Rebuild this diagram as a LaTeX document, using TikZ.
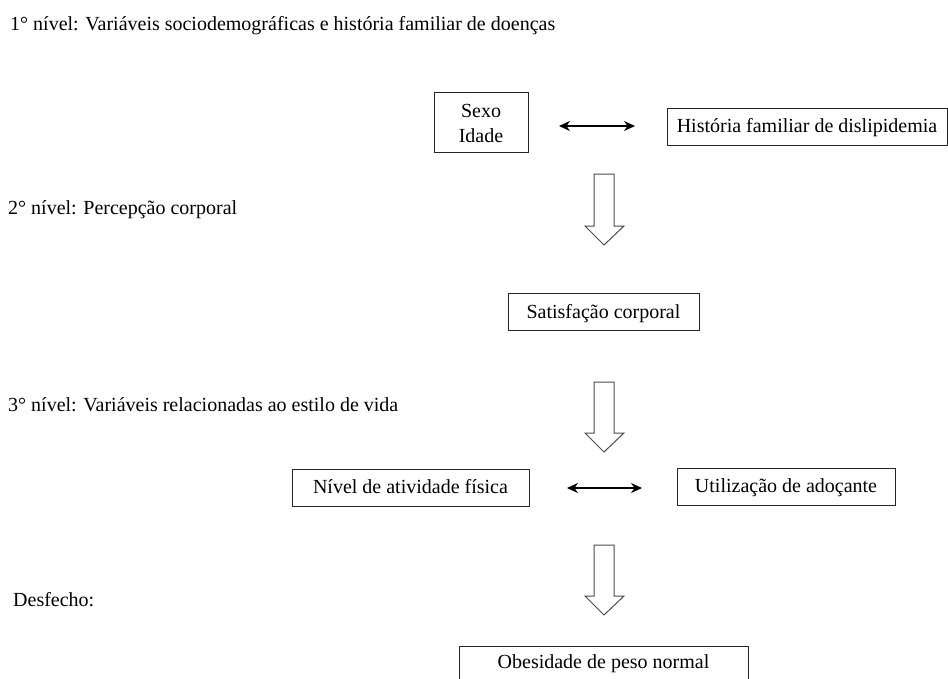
\documentclass[tikz,border=0pt]{standalone}
\usepackage{fontspec}
\setmainfont{Liberation Serif}
\usetikzlibrary{arrows.meta}
\begin{document}
\begin{tikzpicture}[x=1pt,y=-1pt,
  lbl/.style={anchor=base west,inner sep=0pt,font=\fontsize{20}{24}\selectfont},
  txt/.style={anchor=base,inner sep=0pt,font=\fontsize{20}{24}\selectfont},
  boxline/.style={draw=black!85,line width=1pt},
  dbl/.style={{Stealth[length=11pt,width=10pt]}-{Stealth[length=11pt,width=10pt]},line width=1.2pt},
  hollow/.style={draw=black!70,line width=1pt,fill=white}]
\useasboundingbox (0,0) rectangle (948,678);
% level labels
\node[lbl] (l1) at (10,30) {1° nível: Variáveis sociodemográficas e história familiar de doenças};
\node[lbl] (l2) at (8,214) {2° nível: Percepção corporal};
\node[lbl] (l3) at (8,411) {3° nível: Variáveis relacionadas ao estilo de vida};
\node[lbl] (l4) at (13,606) {Desfecho:};
% boxes
\draw[boxline] (434,92) rectangle (528,152);
\node[txt] (sexo) at (481,117) {Sexo};
\node[txt] (idade) at (481,142) {Idade};
\draw[boxline] (667,108) rectangle (947,145);
\node[txt] (hist) at (807,132) {História familiar de dislipidemia};
\draw[boxline] (508,293) rectangle (699,330);
\node[txt] (sat) at (603.5,318) {Satisfação corporal};
\draw[boxline] (292,469) rectangle (529,506);
\node[txt] (niv) at (410.5,493) {Nível de atividade física};
\draw[boxline] (677,468) rectangle (895,505);
\node[txt] (uti) at (786,492) {Utilização de adoçante};
\draw[boxline] (459,646) rectangle (748,680);
\node[txt] (obe) at (603.5,668) {Obesidade de peso normal};
% double arrows
\coordinate (a1l) at (559,126);
\coordinate (a1r) at (635,126);
\draw[dbl] (a1l) -- (a1r);
\coordinate (a2l) at (567,488);
\coordinate (a2r) at (642,488);
\draw[dbl] (a2l) -- (a2r);
% hollow arrows
\foreach \t/\s/\p in {174/226/245, 382/433/452, 545/596/615}{
  \draw[hollow] (594,\t) -- (614,\t) -- (614,\s) -- (624,\s) -- (604,\p) -- (585,\s) -- (594,\s) -- cycle;
}
\end{tikzpicture}
\end{document}
